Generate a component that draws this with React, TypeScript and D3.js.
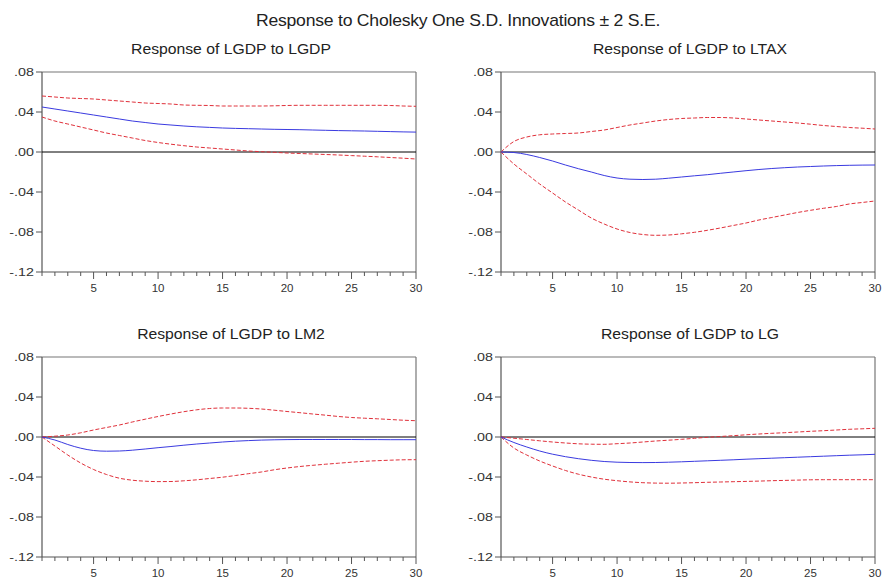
import React from "react";
import * as d3 from "d3";

const periods = d3.range(1, 31);
const yTicks = [0.08, 0.04, 0.0, -0.04, -0.08, -0.12];
const yTickLabels = [".08", ".04", ".00", "-.04", "-.08", "-.12"];
const xTickLabels = [5, 10, 15, 20, 25, 30];

const mainTitle = "Response to Cholesky One S.D. Innovations \u00b1 2 S.E.";
const panelTitles = [
   "Response of LGDP to LGDP",
   "Response of LGDP to LTAX",
   "Response of LGDP to LM2",
   "Response of LGDP to LG",
];

// LGDP -> LGDP
const gdpResp = [.045, .043, .041, .039, .037, .035, .033, .031, .0295, .028, .027, .026, .0252, .0246, .024, .0236, .0233, .023, .0227, .0225, .0223, .022, .0217, .0214, .0212, .021, .0207, .0204, .0201, .0199];
const gdpUpper = [.056, .055, .054, .0535, .053, .052, .051, .050, .049, .0485, .048, .047, .0467, .0465, .046, .046, .046, .046, .0462, .0465, .0467, .0467, .0467, .0467, .0467, .0467, .0467, .0465, .046, .0457];
const gdpLower = [.035, .031, .028, .025, .022, .019, .0165, .014, .0115, .0095, .0078, .0063, .005, .004, .003, .002, .001, .0003, -.0003, -.001, -.0015, -.002, -.0025, -.003, -.0036, -.0042, -.0048, -.0055, -.0062, -.007];

// LGDP -> LTAX
const taxResp = [0, -.0005, -.0025, -.0055, -.009, -.013, -.0167, -.02, -.0235, -.026, -.0272, -.0275, -.0272, -.0262, -.025, -.0238, -.0227, -.0213, -.02, -.0187, -.0175, -.0165, -.0157, -.015, -.0145, -.014, -.0136, -.0133, -.0131, -.013];
const taxUpper = [0, .0105, .015, .0172, .018, .0185, .019, .0205, .022, .0245, .027, .029, .031, .0325, .0335, .034, .0345, .0345, .034, .033, .032, .031, .030, .029, .0278, .0265, .0255, .0245, .0238, .023];
const taxLower = [0, -.012, -.022, -.032, -.041, -.05, -.058, -.066, -.072, -.077, -.0805, -.0825, -.0833, -.083, -.0818, -.0803, -.0783, -.076, -.0735, -.071, -.068, -.0655, -.063, -.0605, -.0583, -.0563, -.0545, -.052, -.0505, -.049];

// LGDP -> LM2
const m2Resp = [0, -.003, -.0075, -.0112, -.0135, -.0142, -.014, -.0132, -.012, -.0107, -.0095, -.0082, -.007, -.006, -.005, -.0042, -.0036, -.0031, -.0028, -.0026, -.0025, -.0025, -.0025, -.0025, -.0025, -.0026, -.0026, -.0027, -.0027, -.0027];
const m2Upper = [0, .0008, .002, .0042, .007, .0095, .012, .015, .0178, .0205, .023, .0253, .0272, .0285, .029, .029, .0287, .028, .0268, .0255, .0243, .023, .0218, .0205, .0195, .0188, .0182, .0175, .0168, .0163];
const m2Lower = [0, -.009, -.018, -.026, -.0325, -.0375, -.0412, -.0432, -.0442, -.0446, -.0445, -.0438, -.0428, -.0415, -.0402, -.0385, -.0367, -.035, -.0328, -.031, -.0295, -.0283, -.0272, -.0262, -.0252, -.0243, -.0237, -.0232, -.0228, -.0227];

// LGDP -> LG
const gResp = [0, -.0055, -.01, -.014, -.0172, -.0197, -.0217, -.0233, -.0245, -.0252, -.0255, -.0256, -.0255, -.0252, -.0248, -.0243, -.0238, -.0233, -.0228, -.0222, -.0217, -.0212, -.0207, -.0202, -.0197, -.0192, -.0187, -.0182, -.0178, -.0173];
const gUpper = [0, -.0012, -.0025, -.0038, -.005, -.006, -.0068, -.0072, -.0073, -.0067, -.006, -.005, -.004, -.0032, -.0023, -.0013, -.0003, .0005, .0013, .0022, .003, .0037, .0043, .005, .0057, .0063, .007, .0077, .0082, .0087];
const gLower = [0, -.011, -.018, -.024, -.029, -.0335, -.0372, -.04, -.0422, -.0437, -.0449, -.0457, -.0461, -.0462, -.046, -.0457, -.0453, -.045, -.0447, -.0444, -.0441, -.0437, -.0434, -.0431, -.0428, -.0427, -.0427, -.0427, -.0427, -.0427];

const panelData = [
   [gdpResp, gdpUpper, gdpLower],
   [taxResp, taxUpper, taxLower],
   [m2Resp, m2Upper, m2Lower],
   [gResp, gUpper, gLower],
];

const FONT = "'Liberation Sans', Arial, sans-serif";

const Panel = ({ x0, y0, title, series }) => {
   const w = 374;
   const h = 200;
   const x = d3.scaleLinear().domain([1, 30]).range([0, w]);
   const y = d3.scaleLinear().domain([-0.12, 0.08]).range([h, 0]);
   const line = d3
      .line<number>()
      .x((_, i) => x(periods[i]))
      .y((d) => y(d))
      .curve(d3.curveMonotoneX);
   const [resp, upper, lower] = series;

   return (
      <g transform={`translate(${x0}, ${y0})`}>
         <g transform={`translate(${w / 2 + 2}, -18) scale(1.05, 1)`}>
            <text textAnchor="middle" fontSize={15} fill="#222" fontFamily={FONT}>
               {title}
            </text>
         </g>
         {/* frame */}
         <line x1={0} y1={0} x2={w} y2={0} stroke="#777" strokeWidth={1.2} />
         <line x1={w} y1={0} x2={w} y2={h} stroke="#777" strokeWidth={1.2} />
         <line x1={0} y1={0} x2={0} y2={h} stroke="#555" strokeWidth={1.2} />
         <line x1={0} y1={h} x2={w} y2={h} stroke="#555" strokeWidth={1.2} />
         {/* y ticks */}
         {yTicks.map((t, i) => (
            <g key={i}>
               <line x1={-6} x2={0} y1={y(t)} y2={y(t)} stroke="#555" />
               <g transform={`translate(-8, ${y(t)}) scale(1.3, 1)`}>
                  <text dy="0.35em" textAnchor="end" fontSize={11} fill="#333" fontFamily={FONT}>
                     {yTickLabels[i]}
                  </text>
               </g>
            </g>
         ))}
         {/* x ticks */}
         {periods.map((p) => (
            <line key={p} x1={x(p)} x2={x(p)} y1={h} y2={h + (p % 5 === 0 ? 7 : 4)} stroke="#555" />
         ))}
         {xTickLabels.map((t) => (
            <text key={t} x={x(t)} y={h + 20} textAnchor="middle" fontSize={11.5} fill="#333" fontFamily={FONT}>
               {t}
            </text>
         ))}
         {/* zero line */}
         <line x1={0} x2={w} y1={y(0)} y2={y(0)} stroke="#000" strokeWidth={1} />
         <path d={line(upper)} fill="none" stroke="#e0303a" strokeWidth={1} strokeDasharray="4,2" />
         <path d={line(lower)} fill="none" stroke="#e0303a" strokeWidth={1} strokeDasharray="4,2" />
         <path d={line(resp)} fill="none" stroke="#3a3ae0" strokeWidth={1} />
      </g>
   );
};

const App = () => {
   const origins = [
      [42, 72],
      [501, 72],
      [42, 357],
      [501, 357],
   ];
   return (
      <svg width={884} height={578} style={{ position: "absolute", left: 0, top: 0, background: "#fff" }}>
         <rect width={884} height={578} fill="#fff" />
         <g transform="translate(458, 26) scale(1.1, 1)">
            <text textAnchor="middle" fontSize={16} fill="#222" fontFamily={FONT} letterSpacing={-0.2}>
               {mainTitle}
            </text>
         </g>
         {origins.map(([ox, oy], i) => (
            <Panel key={i} x0={ox} y0={oy} title={panelTitles[i]} series={panelData[i]} />
         ))}
      </svg>
   );
};

export default App;
